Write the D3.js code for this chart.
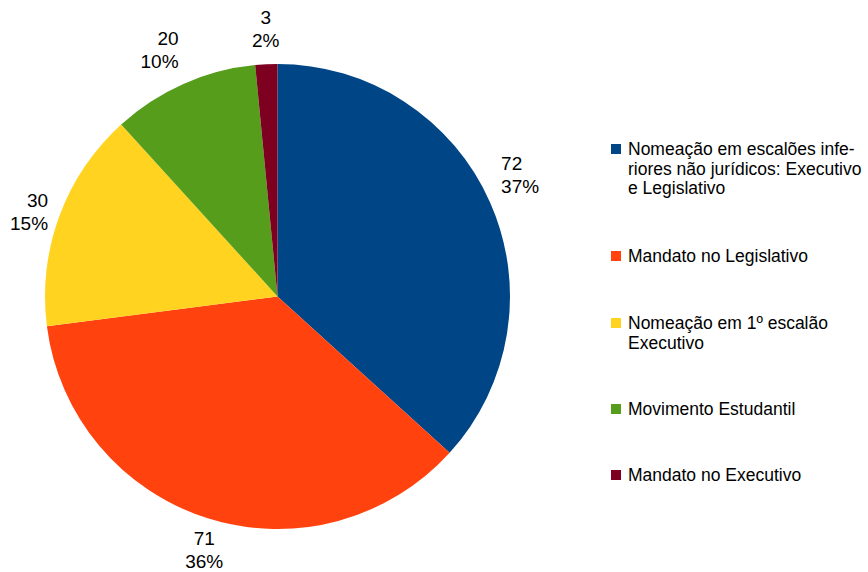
<!DOCTYPE html>
<html>
<head>
<meta charset="utf-8">
<script src="https://cdn.jsdelivr.net/npm/d3@7"></script>
<style>
  body { margin: 0; background: #fff; }
  text { font-family: "Liberation Sans", Arial, sans-serif; fill: #000; }
</style>
</head>
<body>
<div class="chart"></div>
<script>
// size of the page
const w = 868;
const h = 572;

// data
const categories = ["Nomeação em escalões inferiores não jurídicos: Executivo e Legislativo",
                    "Mandato no Legislativo",
                    "Nomeação em 1º escalão Executivo",
                    "Movimento Estudantil",
                    "Mandato no Executivo"];
const values = [72, 71, 30, 20, 3];
const percents = ["37%", "36%", "15%", "10%", "2%"];
// legend text, split the way the original wraps it
const legendLines = [["Nomeação em escalões infe-", "riores não jurídicos: Executivo", "e Legislativo"],
                     ["Mandato no Legislativo"],
                     ["Nomeação em 1º escalão", "Executivo"],
                     ["Movimento Estudantil"],
                     ["Mandato no Executivo"]];
const colors = ["#004586", "#ff420e", "#ffd320", "#579d1c", "#7e0021"];

const cx = 277.5, cy = 296.5, r = 232.5;

const svg = d3.select(".chart").append("svg")
  .attr("width", w)
  .attr("height", h);

const pie = d3.pie().sort(null).value(d => d)(values);
const arc = d3.arc().innerRadius(0).outerRadius(r);

const g = svg.append("g").attr("transform", `translate(${cx},${cy})`);

g.selectAll("path")
  .data(pie)
  .enter()
  .append("path")
  .attr("d", arc)
  .attr("fill", (d, i) => colors[i]);

// data labels outside the slices
const labelR = r + 12;
const fs = 19;
const lh = 23;
pie.forEach((d, i) => {
  const a = (d.startAngle + d.endAngle) / 2;
  const s = Math.sin(a), c = Math.cos(a);
  const x = s * labelR, y = -c * labelR;
  let anchor = "middle";
  if (s > 0.35) anchor = "start";
  else if (s < -0.35) anchor = "end";
  // first baseline of the two-line block
  let y0;
  if (c > 0.38) y0 = y - lh - 5;          // block sits above the point
  else if (c < -0.38) y0 = y + fs - 4;    // block hangs below the point
  else y0 = y - lh / 2 + 6;               // block centred on the point
  const t = g.append("text")
    .attr("text-anchor", anchor)
    .style("font-size", fs + "px");
  t.append("tspan").attr("x", x).attr("y", y0).text(values[i]);
  t.append("tspan").attr("x", x).attr("y", y0 + lh).text(percents[i]);
});

// legend
const legendX = 611;
const legendTop = [155, 262, 329, 415, 481];
const legendLh = 19.5;
const legend = svg.append("g");
legendLines.forEach((lines, i) => {
  legend.append("rect")
    .attr("x", legendX)
    .attr("y", legendTop[i] - 11)
    .attr("width", 10)
    .attr("height", 10)
    .attr("fill", colors[i]);
  const t = legend.append("text")
    .style("font-size", "17.5px");
  lines.forEach((l, j) => {
    t.append("tspan")
      .attr("x", legendX + 17)
      .attr("y", legendTop[i] + j * legendLh)
      .text(l);
  });
});
</script>
</body>
</html>
